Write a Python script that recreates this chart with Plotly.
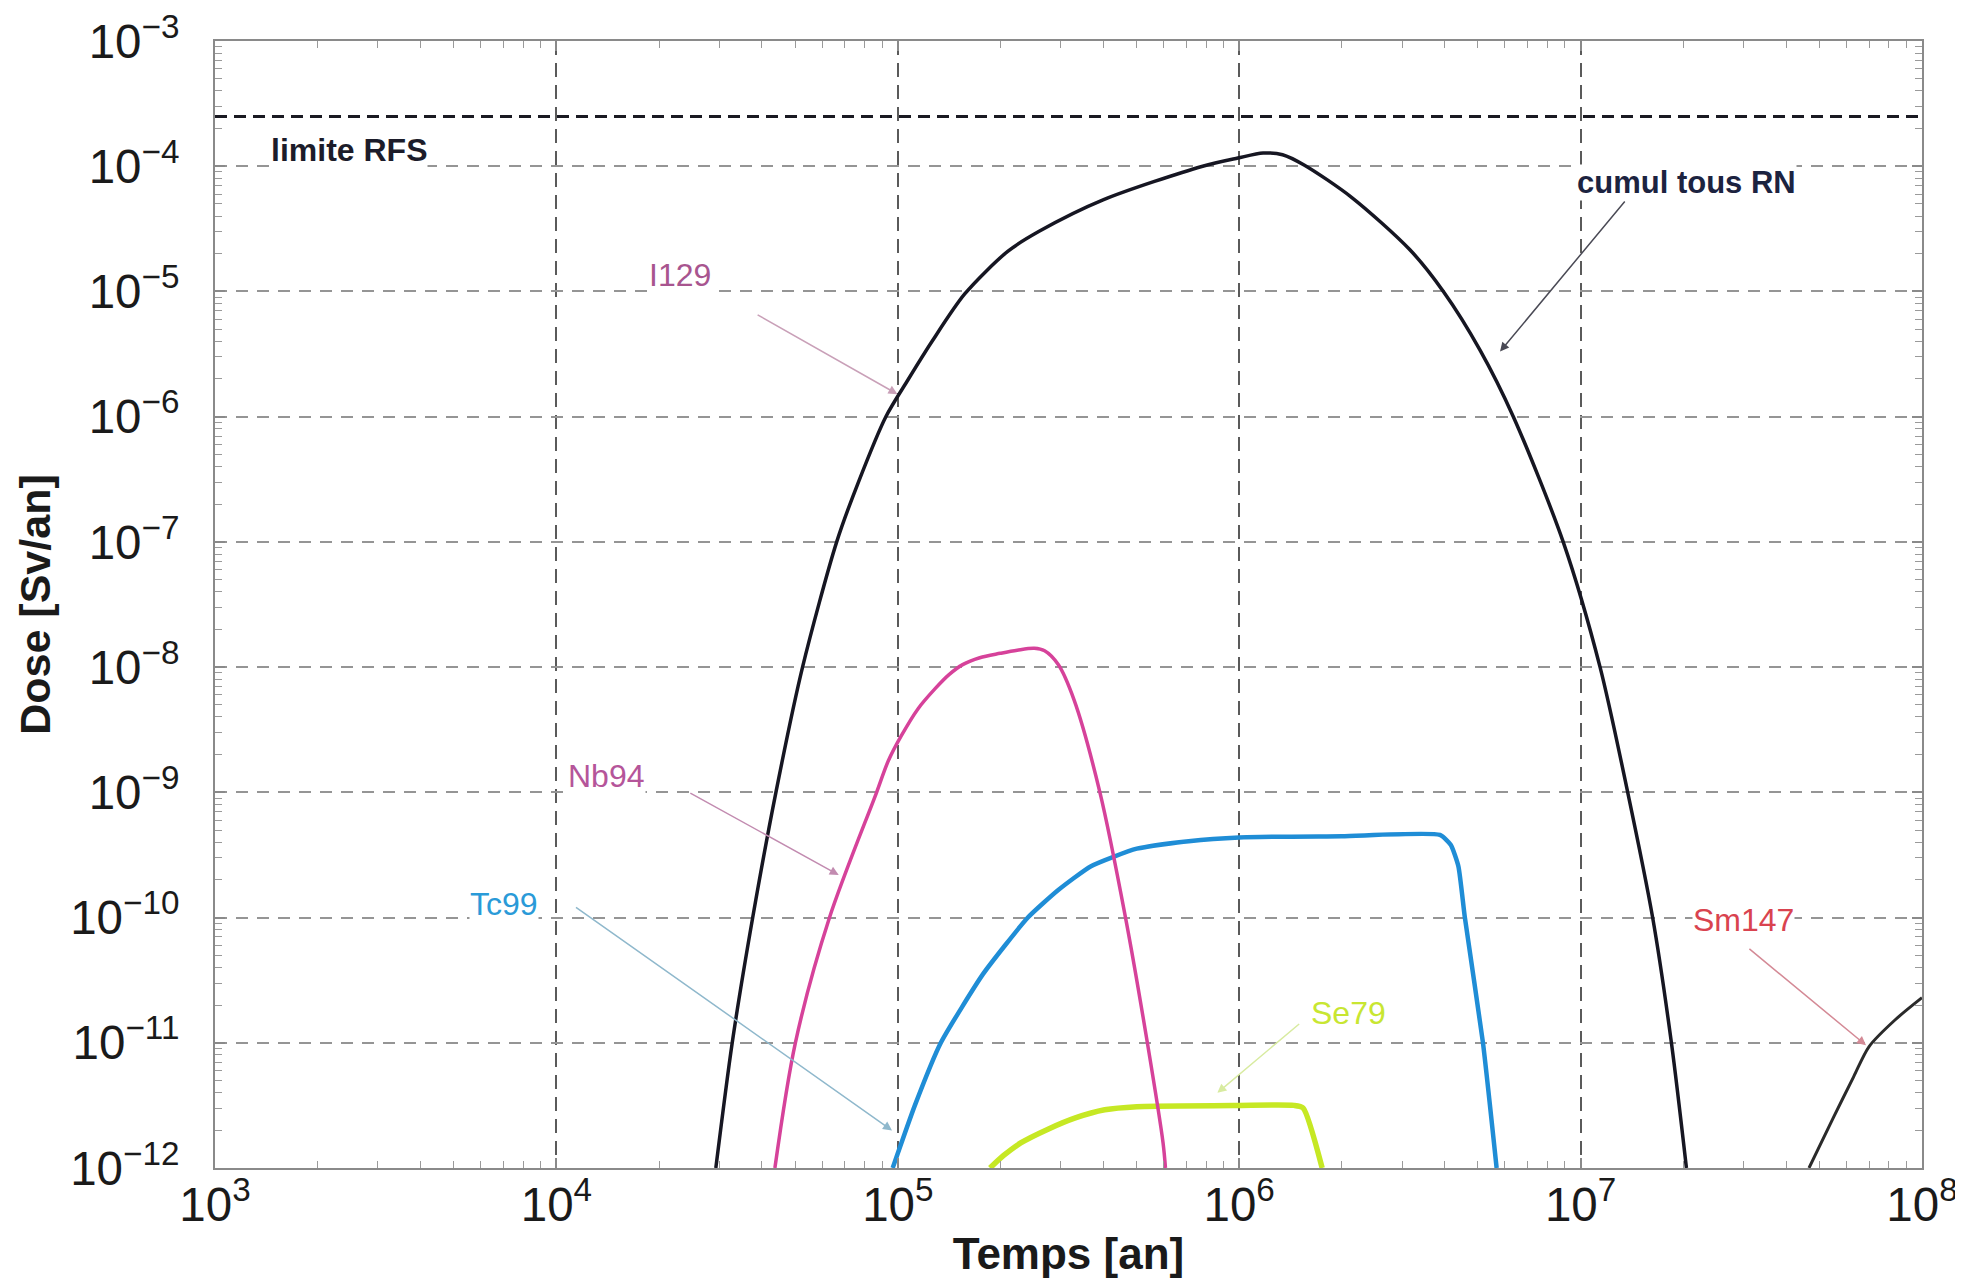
import plotly.graph_objects as go

# ---------------- data (log10 of time [an] and log10 of dose [Sv/an]) ----------------
cumul_log_t = [4.467, 4.515, 4.575, 4.643, 4.721, 4.821, 4.885, 4.965, 5.030, 5.100, 5.196,
               5.322, 5.414, 5.603, 5.893, 5.996, 6.070, 6.127, 6.190, 6.330, 6.500, 6.598,
               6.705, 6.803, 6.949, 7.057, 7.138, 7.211, 7.266, 7.310]
cumul_log_d = [-12.0, -11.0, -10.0, -9.0, -8.0, -7.0, -6.52, -6.0, -5.705, -5.40, -5.02,
               -4.68, -4.52, -4.267, -4.0, -3.935, -3.895, -3.908, -3.990, -4.250, -4.667, -5.0,
               -5.466, -6.0, -7.0, -8.0, -9.0, -10.0, -11.0, -12.0]

sm147_log_t = [7.669, 7.740, 7.800, 7.845, 7.920, 8.000]
sm147_log_d = [-12.0, -11.6, -11.27, -11.03, -10.82, -10.64]

nb94_log_t = [4.640, 4.700, 4.800, 4.938, 4.972, 5.010, 5.060, 5.110, 5.150, 5.190, 5.240,
              5.300, 5.350, 5.400, 5.430, 5.470, 5.516, 5.592, 5.667, 5.731, 5.777, 5.784]
nb94_log_d = [-12.0, -11.0, -10.0, -9.0, -8.75, -8.55, -8.33, -8.17, -8.06, -7.98, -7.925,
              -7.89, -7.865, -7.85, -7.87, -7.98, -8.26, -9.0, -10.0, -11.0, -11.8, -12.0]

tc99_log_t = [4.985, 5.050, 5.126, 5.250, 5.381, 5.470, 5.566, 5.700, 5.852, 6.000, 6.300,
              6.588, 6.620, 6.642, 6.661, 6.714, 6.754]
tc99_log_d = [-12.0, -11.5, -11.0, -10.45, -10.0, -9.78, -9.59, -9.45, -9.39, -9.36, -9.35,
              -9.34, -9.42, -9.59, -10.0, -11.0, -12.0]

se79_log_t = [5.270, 5.310, 5.360, 5.440, 5.520, 5.606, 5.700, 6.000, 6.160, 6.187, 6.243]
se79_log_d = [-12.0, -11.90, -11.80, -11.69, -11.60, -11.535, -11.51, -11.50, -11.50, -11.52, -12.0]

rfs_limit = 2.5e-4          # limite RFS [Sv/an]
x_range_exp = [3, 8]
y_range_exp = [-12, -3]

# ---------------- figure ----------------
def pw(v):
    return [10 ** e for e in v]

FONT = "Liberation Sans, Arial, sans-serif"
fig = go.Figure()

fig.add_trace(go.Scatter(x=[10 ** x_range_exp[0], 10 ** x_range_exp[1]], y=[rfs_limit, rfs_limit],
                         mode="lines", line=dict(color="#1a1a22", width=3, dash="12px,7px"),
                         showlegend=False, hoverinfo="skip"))
fig.add_trace(go.Scatter(x=pw(se79_log_t), y=pw(se79_log_d), mode="lines",
                         line=dict(color="#c6e824", width=5.5, shape="spline", smoothing=0.6), name="Se79"))
fig.add_trace(go.Scatter(x=pw(tc99_log_t), y=pw(tc99_log_d), mode="lines",
                         line=dict(color="#1f8dd6", width=4.5, shape="spline", smoothing=0.5), name="Tc99"))
fig.add_trace(go.Scatter(x=pw(nb94_log_t), y=pw(nb94_log_d), mode="lines",
                         line=dict(color="#d6429a", width=3.5, shape="spline", smoothing=0.9), name="Nb94"))
fig.add_trace(go.Scatter(x=pw(cumul_log_t), y=pw(cumul_log_d), mode="lines",
                         line=dict(color="#161622", width=3.5, shape="spline", smoothing=0.8),
                         name="cumul tous RN"))
fig.add_trace(go.Scatter(x=pw(sm147_log_t), y=pw(sm147_log_d), mode="lines",
                         line=dict(color="#2a2a2a", width=3, shape="spline", smoothing=0.8), name="Sm147"))

axis_common = dict(
    type="log", showline=True, linecolor="#8a8a8a", linewidth=2, mirror="allticks",
    ticks="inside", ticklen=10, tickcolor="#8a8a8a", tickwidth=1.5, automargin=False,
    dtick=1, exponentformat="power", showexponent="all", ticklabeloverflow="allow",
    tickfont=dict(family=FONT, size=38, color="#1a1a1a"),
    minor=dict(ticks="inside", ticklen=7, tickcolor="#9a9a9a", tickwidth=1.2, dtick="D1", showgrid=False),
    zeroline=False,
)

fig.update_xaxes(**axis_common, range=x_range_exp, showgrid=True, gridcolor="#5a5a5a",
                 gridwidth=1.5, griddash="14px,8px",
                 title=dict(text="<b>Temps [an]</b>", font=dict(family=FONT, size=44, color="#1a1a1a"),
                            standoff=8),
                 ticklabelstandoff=-4)
fig.update_yaxes(**axis_common, range=y_range_exp, showgrid=True, gridcolor="#959595",
                 gridwidth=2, griddash="12px,9px",
                 title=dict(text="<b>Dose [Sv/an]</b>", font=dict(family=FONT, size=43, color="#1a1a1a"),
                            standoff=6),
                 ticklabelstandoff=26)

annotations = []
def label(text, x, y, color, size=32, bold=False):
    t = f"<b>{text}</b>" if bold else text
    annotations.append(dict(text=t, x=x, y=y, xref="x", yref="y", showarrow=False,
                            bgcolor="white", borderpad=0,
                            font=dict(family=FONT, size=size, color=color)))

def arrow(x0, y0, x1, y1, color, width=1.5):
    annotations.append(dict(text="", x=x1, y=y1, ax=x0, ay=y0, xref="x", yref="y",
                            axref="x", ayref="y", showarrow=True, arrowhead=2, arrowsize=1.2,
                            arrowwidth=width, arrowcolor=color, standoff=0, startstandoff=0))

label("limite RFS", 3.393, -3.87, "#1c1c2a", size=32, bold=True)
label("cumul tous RN", 7.310, -4.13, "#1c2340", size=31, bold=True)
label("I129", 4.361, -4.87, "#a8558f")
label("Nb94", 4.148, -8.87, "#b5559a")
label("Tc99", 3.847, -9.89, "#2a9ad8")
label("Se79", 6.320, -10.76, "#c8e632")
label("Sm147", 7.478, -10.02, "#d9434f")

arrow(7.133, -4.27, 6.764, -5.48, "#4a4a55")
arrow(4.585, -5.18, 4.999, -5.82, "#c9a0b8")
arrow(4.388, -9.00, 4.827, -9.66, "#c28bb0")
arrow(4.053, -9.91, 4.983, -11.70, "#8fb8cc")
arrow(6.180, -10.84, 5.936, -11.40, "#d8eba0")
arrow(7.490, -10.24, 7.836, -11.02, "#d48a96")

fig.update_layout(
    width=1963, height=1287,
    margin=dict(l=207, r=49, t=33, b=127, autoexpand=False),
    paper_bgcolor="white", plot_bgcolor="white",
    showlegend=False,
    annotations=annotations,
)

fig.write_html("out.html")
